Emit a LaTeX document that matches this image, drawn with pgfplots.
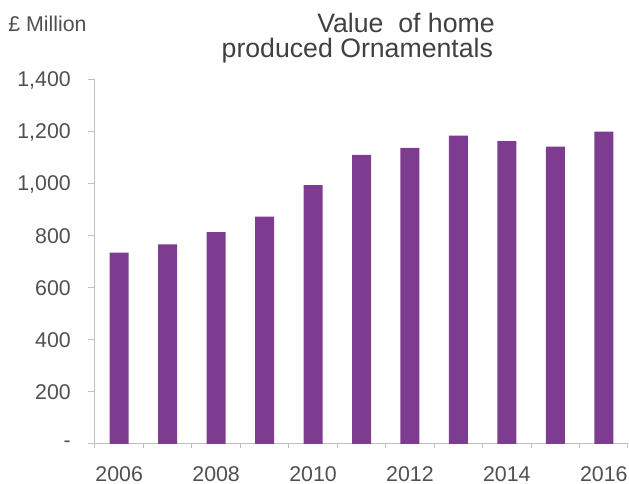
\documentclass[border=0pt]{standalone}
\usepackage{pgfplots}
\pgfplotsset{compat=1.18}
\usepackage{fontspec}
\setmainfont{Liberation Sans}
\definecolor{barpurple}{HTML}{7D3C8F}
\definecolor{axgray}{HTML}{BFBFBF}
\definecolor{txtgray}{HTML}{505050}
\begin{document}
\begin{tikzpicture}
\begin{axis}[
  at={(71.25pt,30pt)}, anchor=south west,
  scale only axis, width=399.75pt, height=273pt,
  xmin=2005.5, xmax=2016.5, ymin=0, ymax=1400,
  axis x line*=bottom, axis y line*=left,
  axis line style={axgray, line width=0.75pt},
  every tick/.style={axgray, line width=0.75pt},
  xtick={2006,2008,2010,2012,2014,2016},
  xticklabels={2006,2008,2010,2012,2014,2016},
  major x tick style={draw=none},
  minor xtick={2005.5,2006.5,...,2016.5},
  minor tick length=3pt,
  ytick={0,200,400,600,800,1000,1200,1400},
  yticklabels={-,200,400,600,800,{1,000},{1,200},{1,400}},
  tick align=outside,
  major tick length=5pt,
  yticklabel style={anchor=east, inner sep=0pt, xshift=-13pt, font=\fontsize{16}{18}\selectfont, text=txtgray},
  xticklabel style={anchor=north, inner sep=0pt, yshift=-11.5pt, font=\fontsize{16}{18}\selectfont, text=txtgray},
  /pgf/number format/assume math mode=true,
  ybar, bar width=14.25pt,
  clip=false,
]
\addplot[fill=barpurple, draw=none] coordinates {
  (2006,736) (2007,768) (2008,815) (2009,874) (2010,996)
  (2011,1112) (2012,1139) (2013,1186) (2014,1165) (2015,1144) (2016,1201)
};
\end{axis}
\node[anchor=west, inner sep=0pt, text=txtgray, font=\fontsize{16}{18}\selectfont] at (6pt,345pt) {£ Million};
\node[inner sep=0pt, text=txtgray!80!black, font=\fontsize{20}{24}\selectfont] at (304.5pt,346pt) {Value\ \ of home};
\node[inner sep=0pt, text=txtgray!80!black, font=\fontsize{20}{24}\selectfont] at (268pt,324.75pt) {produced Ornamentals};
\pgfresetboundingbox
\useasboundingbox (0,0) rectangle (471.75pt,363pt);
\end{tikzpicture}
\end{document}
